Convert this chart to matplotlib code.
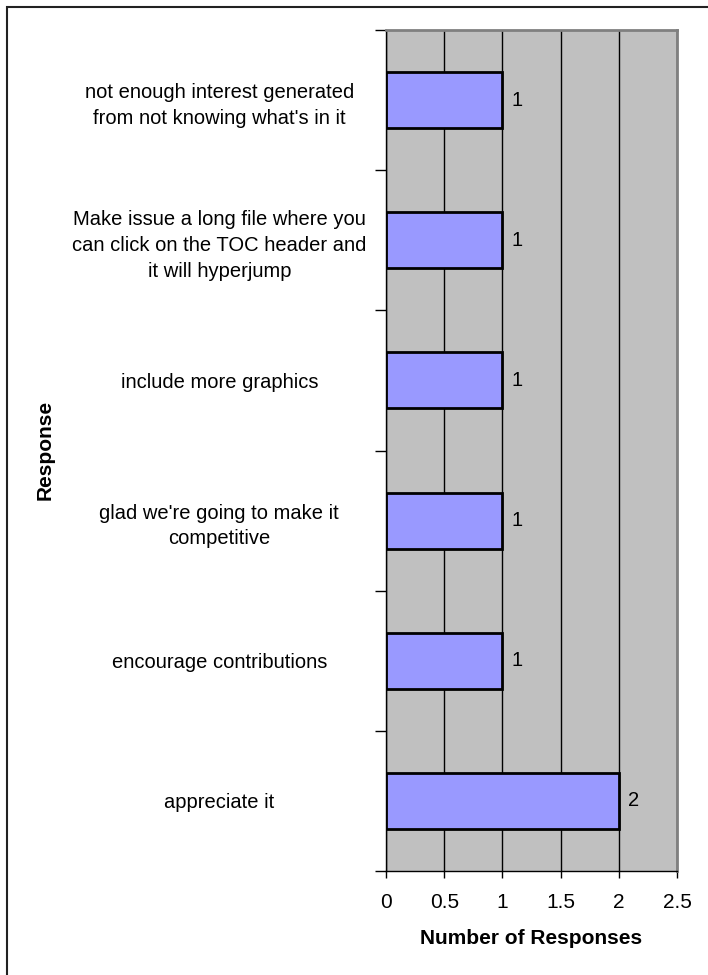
import matplotlib.pyplot as plt
import numpy as np
from matplotlib.patches import Rectangle

plt.rcParams['font.family'] = ['Liberation Sans', 'DejaVu Sans']

# categories listed bottom to top
responses = [
    "appreciate it",
    "encourage contributions",
    "glad we're going to make it\ncompetitive",
    "include more graphics",
    "Make issue a long file where you\ncan click on the TOC header and\nit will hyperjump",
    "not enough interest generated\nfrom not knowing what's in it",
]
counts = [2, 1, 1, 1, 1, 1]
x_ticks = [0, 0.5, 1, 1.5, 2, 2.5]

W, H = 708, 975
fig = plt.figure(figsize=(W / 100, H / 100), dpi=100)
ax = fig.add_axes([386 / W, 1 - 871 / H, (677 - 386) / W, (871 - 30) / H])

# outer chart border (runs off right/bottom edge like the original)
fig.patches.append(Rectangle((7 / W, -0.1), 1.2, 1 - 7 / H + 0.1, transform=fig.transFigure,
                             fill=False, edgecolor="#222222", linewidth=1.5))

ax.set_facecolor("#C0C0C0")
y = np.arange(len(responses))
ax.barh(y, counts, height=0.4, color="#9999FF", edgecolor="black", linewidth=2, zorder=3)
for yi, c in zip(y, counts):
    ax.text(c + 0.08, yi, str(c), va="center", ha="left", fontsize=14.5, zorder=4)

ax.set_xlim(0, 2.5)
ax.set_ylim(-0.5, len(responses) - 0.5)
ax.set_xticks(x_ticks)
ax.set_xticklabels([f"{t:g}" for t in x_ticks], fontsize=15)
ax.xaxis.grid(True, color="black", linewidth=1)
ax.set_axisbelow(True)

ax.set_yticks(y)
ax.set_yticklabels(responses, fontsize=14.5, ha="center", linespacing=1.45)
ax.tick_params(axis="y", which="major", length=0, pad=120)
ax.set_yticks(np.arange(len(responses) + 1) - 0.5, minor=True)
ax.tick_params(axis="y", which="minor", length=8, width=1, direction="out")
ax.tick_params(axis="x", length=5, width=1, direction="out", pad=11)

for s in ["top", "right"]:
    ax.spines[s].set_color("#808080")
    ax.spines[s].set_linewidth(2)
for s in ["left", "bottom"]:
    ax.spines[s].set_color("black")
    ax.spines[s].set_linewidth(1)

ax.set_xlabel("Number of Responses", fontsize=15, fontweight="bold", labelpad=12)
fig.text(45 / W, 1 - 450 / H, "Response", rotation=90, fontsize=15, fontweight="bold",
         ha="center", va="center")

fig.savefig("out.png", dpi=100)
